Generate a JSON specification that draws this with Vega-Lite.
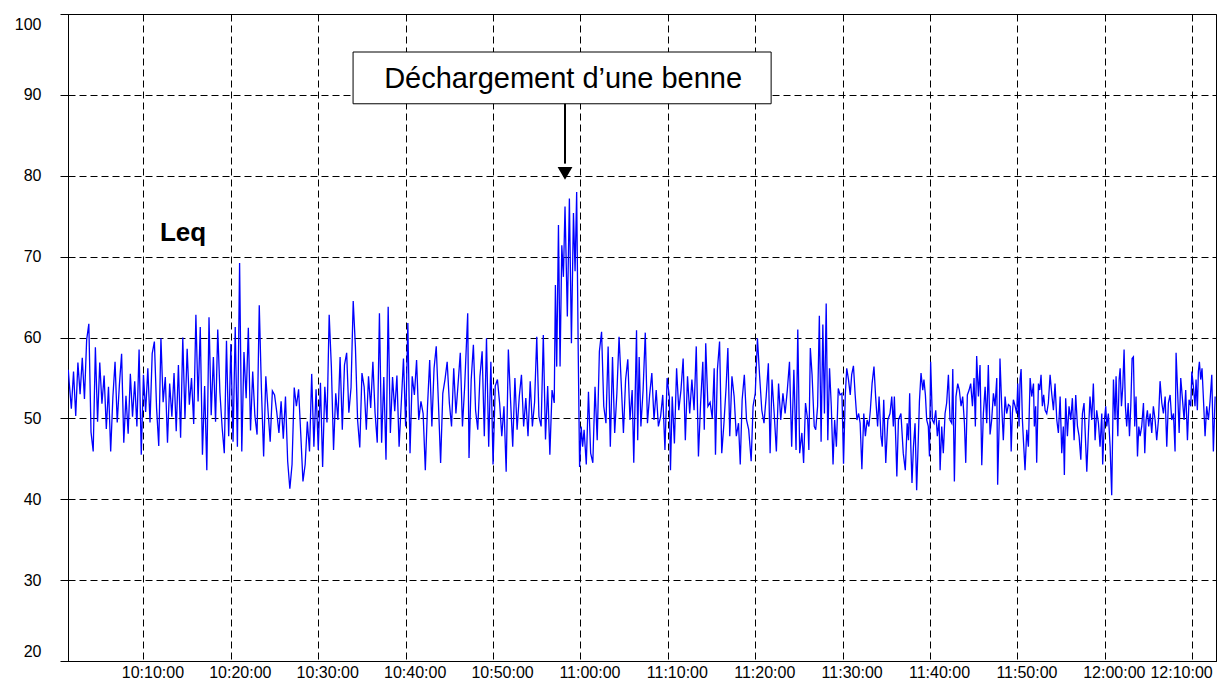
{
  "$schema": "https://vega.github.io/schema/vega-lite/v6.json",
  "width": 1148,
  "height": 647,
  "autosize": "none",
  "padding": {"left": 68, "top": 14, "right": 14, "bottom": 30},
  "background": "white",
  "config": {
    "view": {"stroke": "black", "strokeWidth": 1},
    "axis": {
      "labelFont": "Liberation Sans",
      "labelFontSize": 16,
      "labelColor": "black",
      "domainColor": "black",
      "tickColor": "black",
      "grid": true,
      "gridColor": "black",
      "gridOpacity": 1,
      "gridDash": [7, 4],
      "gridWidth": 1,
      "labelOverlap": false,
      "title": null
    }
  },
  "datasets": {
    "leq": [
      {"t":84,"v":56.0},{"t":90,"v":54.5},{"t":105,"v":51.2},{"t":120,"v":55.8},{"t":135,"v":50.3},{"t":150,"v":56.9},{"t":165,"v":53.0},{"t":180,"v":57.5},{"t":195,"v":52.4},{"t":210,"v":59.7},{"t":225,"v":61.7},{"t":240,"v":48.3},{"t":255,"v":45.9},{"t":270,"v":58.8},{"t":285,"v":49.6},{"t":300,"v":56.9},{"t":315,"v":51.8},{"t":330,"v":55.3},{"t":345,"v":48.7},{"t":360,"v":53.9},{"t":375,"v":45.9},{"t":390,"v":52.6},{"t":405,"v":57.0},{"t":420,"v":49.5},{"t":435,"v":54.2},{"t":450,"v":58.0},{"t":465,"v":47.0},{"t":480,"v":52.8},{"t":495,"v":48.1},{"t":510,"v":55.5},{"t":525,"v":50.2},{"t":540,"v":54.6},{"t":555,"v":49.0},{"t":570,"v":58.5},{"t":585,"v":45.5},
      {"t":600,"v":55.4},{"t":615,"v":50.8},{"t":630,"v":56.2},{"t":645,"v":49.5},{"t":660,"v":58.0},{"t":675,"v":59.5},{"t":690,"v":51.3},{"t":705,"v":46.6},{"t":720,"v":59.9},{"t":735,"v":52.0},{"t":750,"v":55.1},{"t":765,"v":47.0},{"t":780,"v":54.3},{"t":795,"v":50.2},{"t":810,"v":55.6},{"t":825,"v":48.4},{"t":840,"v":56.6},{"t":855,"v":47.6},{"t":870,"v":60.0},{"t":885,"v":50.0},{"t":900,"v":58.6},{"t":915,"v":51.7},{"t":930,"v":55.0},{"t":945,"v":49.3},{"t":960,"v":62.8},{"t":975,"v":52.1},{"t":990,"v":61.3},{"t":1005,"v":45.5},{"t":1020,"v":54.0},{"t":1035,"v":43.6},{"t":1050,"v":62.5},{"t":1065,"v":50.4},{"t":1080,"v":57.6},{"t":1095,"v":49.6},{"t":1110,"v":61.0},{"t":1125,"v":53.2},{"t":1140,"v":48.9},{"t":1155,"v":45.7},{"t":1170,"v":59.6},{"t":1185,"v":47.8},
      {"t":1200,"v":59.2},{"t":1215,"v":47.1},{"t":1230,"v":61.3},{"t":1245,"v":46.5},{"t":1260,"v":69.2},{"t":1275,"v":45.9},{"t":1290,"v":58.2},{"t":1305,"v":52.5},{"t":1320,"v":61.2},{"t":1335,"v":48.5},{"t":1350,"v":55.8},{"t":1365,"v":50.3},{"t":1380,"v":48.0},{"t":1395,"v":64.0},{"t":1410,"v":53.5},{"t":1425,"v":45.3},{"t":1440,"v":55.2},{"t":1455,"v":51.0},{"t":1470,"v":47.1},{"t":1485,"v":53.4},{"t":1500,"v":52.9},{"t":1515,"v":50.8},{"t":1530,"v":48.2},{"t":1545,"v":52.1},{"t":1560,"v":47.5},{"t":1575,"v":52.7},{"t":1590,"v":44.7},{"t":1605,"v":41.3},{"t":1620,"v":44.3},{"t":1635,"v":53.8},{"t":1650,"v":51.5},{"t":1665,"v":53.6},{"t":1680,"v":48.0},{"t":1695,"v":42.2},{"t":1710,"v":44.3},{"t":1725,"v":49.6},{"t":1740,"v":45.9},{"t":1755,"v":55.5},{"t":1770,"v":46.5},{"t":1785,"v":53.6},
      {"t":1800,"v":46.1},{"t":1815,"v":54.4},{"t":1830,"v":44.0},{"t":1845,"v":53.9},{"t":1860,"v":49.5},{"t":1875,"v":62.8},{"t":1890,"v":56.4},{"t":1905,"v":46.1},{"t":1920,"v":53.1},{"t":1935,"v":49.8},{"t":1950,"v":57.6},{"t":1965,"v":48.6},{"t":1980,"v":56.6},{"t":1995,"v":58.1},{"t":2010,"v":50.7},{"t":2025,"v":53.8},{"t":2040,"v":64.5},{"t":2055,"v":58.9},{"t":2070,"v":49.8},{"t":2085,"v":46.4},{"t":2100,"v":55.6},{"t":2115,"v":53.9},{"t":2130,"v":48.6},{"t":2145,"v":55.2},{"t":2160,"v":51.3},{"t":2175,"v":57.0},{"t":2190,"v":50.7},{"t":2205,"v":47.0},{"t":2220,"v":63.0},{"t":2235,"v":47.0},{"t":2250,"v":55.1},{"t":2265,"v":44.9},{"t":2280,"v":63.8},{"t":2295,"v":48.2},{"t":2310,"v":55.1},{"t":2325,"v":50.9},{"t":2340,"v":55.3},{"t":2355,"v":46.5},{"t":2370,"v":51.9},{"t":2385,"v":57.4},
      {"t":2400,"v":49.0},{"t":2415,"v":61.8},{"t":2430,"v":45.7},{"t":2445,"v":55.2},{"t":2460,"v":52.9},{"t":2475,"v":57.2},{"t":2490,"v":49.8},{"t":2505,"v":52.1},{"t":2520,"v":50.6},{"t":2535,"v":43.6},{"t":2550,"v":51.5},{"t":2565,"v":57.2},{"t":2580,"v":49.0},{"t":2595,"v":56.2},{"t":2610,"v":58.9},{"t":2625,"v":51.9},{"t":2640,"v":44.5},{"t":2655,"v":53.1},{"t":2670,"v":54.8},{"t":2685,"v":57.0},{"t":2700,"v":51.9},{"t":2715,"v":49.0},{"t":2730,"v":56.2},{"t":2745,"v":50.6},{"t":2760,"v":54.3},{"t":2775,"v":58.1},{"t":2790,"v":49.0},{"t":2805,"v":53.9},{"t":2826,"v":63.0},{"t":2835,"v":45.1},{"t":2850,"v":54.8},{"t":2865,"v":59.1},{"t":2880,"v":51.0},{"t":2895,"v":48.6},{"t":2910,"v":55.2},{"t":2925,"v":58.3},{"t":2940,"v":47.8},{"t":2955,"v":59.9},{"t":2970,"v":46.5},{"t":2985,"v":57.0},
      {"t":3000,"v":44.3},{"t":3015,"v":54.0},{"t":3030,"v":54.8},{"t":3045,"v":51.9},{"t":3060,"v":47.8},{"t":3075,"v":51.5},{"t":3090,"v":43.4},{"t":3105,"v":58.5},{"t":3120,"v":52.3},{"t":3135,"v":46.5},{"t":3150,"v":55.0},{"t":3165,"v":48.6},{"t":3180,"v":52.7},{"t":3195,"v":55.4},{"t":3210,"v":49.0},{"t":3225,"v":52.5},{"t":3240,"v":47.8},{"t":3255,"v":54.6},{"t":3270,"v":49.0},{"t":3285,"v":52.0},{"t":3300,"v":60.1},{"t":3315,"v":50.2},{"t":3330,"v":49.0},{"t":3345,"v":60.3},{"t":3360,"v":47.4},{"t":3375,"v":54.0},{"t":3390,"v":45.5},{"t":3405,"v":53.5},{"t":3420,"v":51.9},{"t":3428,"v":66.5},{"t":3437,"v":56.4},{"t":3449,"v":73.9},{"t":3460,"v":56.4},{"t":3472,"v":71.4},{"t":3483,"v":67.5},{"t":3494,"v":76.2},{"t":3510,"v":62.6},{"t":3524,"v":77.2},{"t":3538,"v":59.3},{"t":3552,"v":75.4},{"t":3563,"v":68.2},{"t":3574,"v":78.0},{"t":3584,"v":59.3},{"t":3594,"v":44.0},
      {"t":3605,"v":49.0},{"t":3615,"v":46.5},{"t":3625,"v":48.6},{"t":3640,"v":44.3},{"t":3655,"v":53.3},{"t":3670,"v":45.7},{"t":3685,"v":44.5},{"t":3700,"v":53.9},{"t":3715,"v":47.3},{"t":3730,"v":58.3},{"t":3745,"v":60.7},{"t":3760,"v":51.5},{"t":3775,"v":49.4},{"t":3790,"v":58.9},{"t":3805,"v":46.5},{"t":3820,"v":57.6},{"t":3835,"v":48.2},{"t":3850,"v":53.1},{"t":3865,"v":60.1},{"t":3880,"v":54.3},{"t":3895,"v":48.2},{"t":3910,"v":54.8},{"t":3925,"v":57.3},{"t":3940,"v":49.8},{"t":3955,"v":53.5},{"t":3966,"v":44.5},{"t":3985,"v":60.9},{"t":3993,"v":47.3},{"t":4003,"v":57.6},{"t":4015,"v":49.0},{"t":4030,"v":53.5},{"t":4045,"v":60.6},{"t":4060,"v":49.4},{"t":4075,"v":52.9},{"t":4090,"v":55.6},{"t":4105,"v":49.8},{"t":4120,"v":53.5},{"t":4135,"v":49.0},{"t":4150,"v":50.2},{"t":4165,"v":52.9},{"t":4180,"v":46.1},{"t":4195,"v":55.0},
      {"t":4210,"v":52.7},{"t":4218,"v":43.6},{"t":4230,"v":52.7},{"t":4245,"v":46.9},{"t":4260,"v":56.2},{"t":4275,"v":51.0},{"t":4290,"v":53.5},{"t":4305,"v":57.4},{"t":4320,"v":47.3},{"t":4335,"v":55.2},{"t":4350,"v":50.6},{"t":4365,"v":54.8},{"t":4380,"v":51.0},{"t":4395,"v":58.9},{"t":4410,"v":45.3},{"t":4425,"v":51.9},{"t":4440,"v":57.0},{"t":4450,"v":48.6},{"t":4460,"v":59.3},{"t":4475,"v":51.5},{"t":4490,"v":52.0},{"t":4505,"v":50.0},{"t":4518,"v":56.2},{"t":4527,"v":45.5},{"t":4540,"v":56.0},{"t":4555,"v":59.5},{"t":4570,"v":45.7},{"t":4585,"v":49.4},{"t":4600,"v":53.9},{"t":4612,"v":58.7},{"t":4625,"v":47.8},{"t":4640,"v":55.2},{"t":4655,"v":52.7},{"t":4670,"v":47.8},{"t":4685,"v":49.4},{"t":4697,"v":44.3},{"t":4710,"v":52.3},{"t":4725,"v":55.4},{"t":4740,"v":49.8},{"t":4755,"v":48.6},{"t":4772,"v":44.7},{"t":4785,"v":51.5},
      {"t":4800,"v":53.1},{"t":4815,"v":59.9},{"t":4830,"v":55.2},{"t":4845,"v":51.0},{"t":4860,"v":49.4},{"t":4875,"v":52.7},{"t":4890,"v":56.8},{"t":4902,"v":45.7},{"t":4915,"v":54.8},{"t":4930,"v":50.6},{"t":4945,"v":45.9},{"t":4960,"v":54.3},{"t":4975,"v":49.8},{"t":4990,"v":53.1},{"t":5005,"v":50.6},{"t":5020,"v":53.5},{"t":5035,"v":57.0},{"t":5050,"v":46.5},{"t":5065,"v":56.0},{"t":5080,"v":46.1},{"t":5092,"v":61.0},{"t":5105,"v":45.7},{"t":5120,"v":48.2},{"t":5132,"v":44.5},{"t":5145,"v":51.9},{"t":5160,"v":49.8},{"t":5168,"v":46.1},{"t":5178,"v":58.7},{"t":5190,"v":55.4},{"t":5205,"v":49.0},{"t":5215,"v":48.6},{"t":5228,"v":51.5},{"t":5240,"v":62.7},{"t":5252,"v":47.1},{"t":5264,"v":61.6},{"t":5275,"v":50.6},{"t":5287,"v":64.2},{"t":5298,"v":47.3},{"t":5310,"v":56.2},{"t":5322,"v":51.5},{"t":5334,"v":44.3},{"t":5345,"v":49.8},{"t":5357,"v":46.5},{"t":5370,"v":53.7},{"t":5382,"v":52.9},{"t":5395,"v":53.1},
      {"t":5406,"v":44.4},{"t":5418,"v":52.9},{"t":5428,"v":56.2},{"t":5440,"v":54.8},{"t":5452,"v":52.9},{"t":5462,"v":55.4},{"t":5474,"v":56.5},{"t":5486,"v":52.9},{"t":5498,"v":49.8},{"t":5510,"v":50.6},{"t":5520,"v":49.4},{"t":5532,"v":43.7},{"t":5545,"v":50.6},{"t":5556,"v":47.8},{"t":5568,"v":49.8},{"t":5580,"v":49.0},{"t":5590,"v":51.0},{"t":5602,"v":54.3},{"t":5615,"v":56.4},{"t":5627,"v":52.5},{"t":5640,"v":49.0},{"t":5650,"v":52.7},{"t":5663,"v":47.8},{"t":5672,"v":46.5},{"t":5682,"v":52.3},{"t":5696,"v":44.5},{"t":5710,"v":49.8},{"t":5725,"v":50.6},{"t":5737,"v":52.7},{"t":5748,"v":49.0},{"t":5755,"v":52.7},{"t":5766,"v":46.5},{"t":5772,"v":42.8},{"t":5783,"v":49.8},{"t":5800,"v":50.6},{"t":5816,"v":45.7},{"t":5830,"v":43.6},{"t":5843,"v":49.4},{"t":5852,"v":47.3},{"t":5860,"v":53.1},{"t":5868,"v":46.5},{"t":5876,"v":42.0},{"t":5886,"v":46.5},{"t":5897,"v":49.4},{"t":5908,"v":41.1},{"t":5920,"v":47.8},{"t":5927,"v":52.1},{"t":5938,"v":55.6},{"t":5950,"v":53.5},{"t":5958,"v":54.8},{"t":5968,"v":52.9},{"t":5977,"v":49.8},{"t":5988,"v":49.0},{"t":5996,"v":45.3},
      {"t":6004,"v":57.0},{"t":6016,"v":49.8},{"t":6027,"v":49.4},{"t":6039,"v":51.0},{"t":6050,"v":47.8},{"t":6062,"v":49.8},{"t":6069,"v":43.6},{"t":6080,"v":49.0},{"t":6091,"v":45.7},{"t":6103,"v":50.6},{"t":6114,"v":51.9},{"t":6126,"v":55.4},{"t":6137,"v":49.8},{"t":6149,"v":49.4},{"t":6156,"v":56.1},{"t":6167,"v":42.2},{"t":6178,"v":52.7},{"t":6190,"v":54.3},{"t":6201,"v":53.5},{"t":6213,"v":51.5},{"t":6224,"v":52.7},{"t":6236,"v":49.4},{"t":6245,"v":44.5},{"t":6256,"v":52.9},{"t":6268,"v":53.5},{"t":6279,"v":54.3},{"t":6291,"v":51.5},{"t":6302,"v":55.0},{"t":6311,"v":49.0},{"t":6320,"v":57.7},{"t":6332,"v":52.7},{"t":6343,"v":56.6},{"t":6355,"v":44.2},{"t":6366,"v":50.6},{"t":6378,"v":53.9},{"t":6389,"v":49.4},{"t":6400,"v":56.6},{"t":6412,"v":48.0},{"t":6423,"v":49.8},{"t":6435,"v":53.1},{"t":6446,"v":51.5},{"t":6458,"v":55.0},{"t":6464,"v":41.8},{"t":6475,"v":49.8},{"t":6480,"v":57.4},{"t":6492,"v":51.5},{"t":6503,"v":47.3},{"t":6515,"v":52.7},{"t":6526,"v":50.6},{"t":6538,"v":51.7},
      {"t":6550,"v":51.5},{"t":6557,"v":45.9},{"t":6565,"v":50.6},{"t":6572,"v":52.3},{"t":6584,"v":51.5},{"t":6595,"v":50.6},{"t":6602,"v":54.3},{"t":6611,"v":49.0},{"t":6618,"v":54.8},{"t":6625,"v":56.1},{"t":6634,"v":49.8},{"t":6641,"v":47.3},{"t":6652,"v":43.6},{"t":6664,"v":48.6},{"t":6675,"v":46.5},{"t":6687,"v":55.0},{"t":6698,"v":52.7},{"t":6710,"v":54.3},{"t":6716,"v":49.0},{"t":6725,"v":51.5},{"t":6732,"v":44.5},{"t":6744,"v":54.3},{"t":6753,"v":53.5},{"t":6762,"v":55.4},{"t":6771,"v":51.5},{"t":6780,"v":52.9},{"t":6790,"v":51.0},{"t":6801,"v":50.6},{"t":6812,"v":51.9},{"t":6824,"v":55.4},{"t":6835,"v":53.1},{"t":6847,"v":51.0},{"t":6858,"v":54.3},{"t":6870,"v":49.8},{"t":6881,"v":48.2},{"t":6893,"v":52.7},{"t":6904,"v":45.7},{"t":6915,"v":49.0},{"t":6922,"v":43.0},{"t":6931,"v":52.5},{"t":6943,"v":47.8},{"t":6954,"v":51.5},{"t":6966,"v":49.8},{"t":6977,"v":52.5},{"t":6989,"v":47.3},{"t":7000,"v":52.9},{"t":7012,"v":49.0},{"t":7023,"v":47.8},{"t":7035,"v":44.9},{"t":7046,"v":50.6},{"t":7057,"v":51.9},{"t":7069,"v":46.5},{"t":7076,"v":43.4},{"t":7087,"v":48.2},{"t":7098,"v":52.7},{"t":7110,"v":49.8},{"t":7121,"v":54.3},{"t":7133,"v":47.3},{"t":7144,"v":51.0},{"t":7156,"v":49.4},{"t":7167,"v":46.5},{"t":7179,"v":50.6},{"t":7185,"v":44.3},{"t":7197,"v":49.8},{"t":7206,"v":51.5},{"t":7213,"v":49.0},{"t":7224,"v":50.6},{"t":7236,"v":46.5},{"t":7247,"v":40.5},{"t":7259,"v":54.8},
      {"t":7270,"v":49.8},{"t":7277,"v":55.2},{"t":7289,"v":47.8},{"t":7298,"v":54.8},{"t":7305,"v":56.2},{"t":7314,"v":51.5},{"t":7323,"v":53.9},{"t":7332,"v":58.5},{"t":7341,"v":51.5},{"t":7350,"v":49.0},{"t":7360,"v":51.9},{"t":7369,"v":47.8},{"t":7378,"v":51.5},{"t":7387,"v":57.4},{"t":7396,"v":57.6},{"t":7405,"v":49.0},{"t":7414,"v":52.7},{"t":7424,"v":45.3},{"t":7433,"v":49.0},{"t":7442,"v":47.8},{"t":7453,"v":49.0},{"t":7465,"v":51.9},{"t":7474,"v":45.7},{"t":7483,"v":49.8},{"t":7492,"v":51.0},{"t":7501,"v":49.0},{"t":7511,"v":50.6},{"t":7522,"v":48.2},{"t":7533,"v":51.5},{"t":7545,"v":49.8},{"t":7556,"v":47.3},{"t":7568,"v":49.8},{"t":7579,"v":54.6},{"t":7591,"v":51.9},{"t":7602,"v":50.6},{"t":7614,"v":52.7},{"t":7625,"v":46.5},{"t":7636,"v":51.9},{"t":7648,"v":52.9},{"t":7659,"v":49.8},{"t":7671,"v":50.6},{"t":7682,"v":45.9},{"t":7689,"v":58.1},{"t":7700,"v":53.1},{"t":7710,"v":48.2},{"t":7721,"v":55.0},{"t":7733,"v":52.3},{"t":7744,"v":49.8},{"t":7755,"v":53.5},{"t":7767,"v":47.3},{"t":7778,"v":52.3},{"t":7790,"v":51.5},{"t":7797,"v":55.8},{"t":7808,"v":53.9},{"t":7819,"v":51.5},{"t":7826,"v":54.8},{"t":7835,"v":51.0},{"t":7842,"v":55.8},{"t":7849,"v":57.0},{"t":7858,"v":54.8},{"t":7867,"v":56.2},{"t":7876,"v":52.7},{"t":7888,"v":47.8},{"t":7899,"v":51.5},{"t":7911,"v":49.8},{"t":7922,"v":52.1},{"t":7934,"v":55.4},{"t":7945,"v":45.9},{"t":7957,"v":52.7}
    ],
    "box": [{"t1": 2039, "t2": 4909, "v1": 95.3, "v2": 88.9}],
    "boxText": [{"t": 3481, "v": 92.0, "label": "Déchargement d’une benne"}],
    "arrow": [{"t": 3494, "v1": 88.9, "v2": 81.5, "vh": 80.3}],
    "leqLabel": [{"t": 872, "v": 72.9, "label": "Leq"}]
  },
  "layer": [
    {
      "data": {"name": "leq"},
      "mark": {"type": "line", "color": "#0000ff", "strokeWidth": 1.3, "clip": true},
      "encoding": {
        "x": {
          "field": "t", "type": "quantitative",
          "scale": {"domain": [82, 7963], "nice": false, "zero": false},
          "axis": {
            "values": [600, 1200, 1800, 2400, 3000, 3600, 4200, 4800, 5400, 6000, 6600, 7200, 7800],
            "labelExpr": "utcFormat(datum.value * 1000 + 36000000, '%H:%M:%S')",
            "ticks": false,
            "labelOffset": 9,
            "labelPadding": 3,
            "labelFlush": 30,
            "labelFlushOffset": 11,
            "labelOverlap": false
          }
        },
        "y": {
          "field": "v", "type": "quantitative",
          "scale": {"domain": [20, 100], "nice": false, "zero": false},
          "axis": {
            "values": [20, 30, 40, 50, 60, 70, 80, 90, 100],
            "tickSize": 8,
            "labelPadding": 19,
            "labelFlush": true,
            "labelFlushOffset": -2,
            "labelOverlap": false
          }
        }
      }
    },
    {
      "data": {"name": "box"},
      "mark": {"type": "rect", "fill": "white", "stroke": "black", "strokeWidth": 1},
      "encoding": {
        "x": {"field": "t1", "type": "quantitative"},
        "x2": {"field": "t2"},
        "y": {"field": "v1", "type": "quantitative"},
        "y2": {"field": "v2"}
      }
    },
    {
      "data": {"name": "boxText"},
      "mark": {"type": "text", "font": "Liberation Sans", "fontSize": 29, "color": "black", "align": "center", "baseline": "middle"},
      "encoding": {
        "x": {"field": "t", "type": "quantitative"},
        "y": {"field": "v", "type": "quantitative"},
        "text": {"field": "label"}
      }
    },
    {
      "data": {"name": "arrow"},
      "mark": {"type": "rule", "color": "black", "strokeWidth": 2},
      "encoding": {
        "x": {"field": "t", "type": "quantitative"},
        "y": {"field": "v1", "type": "quantitative"},
        "y2": {"field": "v2"}
      }
    },
    {
      "data": {"name": "arrow"},
      "mark": {"type": "point", "shape": "triangle-down", "filled": true, "color": "black", "size": 220, "opacity": 1},
      "encoding": {
        "x": {"field": "t", "type": "quantitative"},
        "y": {"field": "vh", "type": "quantitative"}
      }
    },
    {
      "data": {"name": "leqLabel"},
      "mark": {"type": "text", "font": "Liberation Sans", "fontSize": 26, "fontWeight": "bold", "color": "black", "align": "center", "baseline": "middle"},
      "encoding": {
        "x": {"field": "t", "type": "quantitative"},
        "y": {"field": "v", "type": "quantitative"},
        "text": {"field": "label"}
      }
    }
  ]
}
